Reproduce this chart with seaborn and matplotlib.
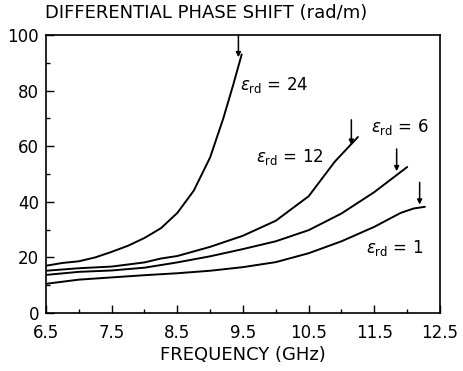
import matplotlib
matplotlib.use("Agg")
import matplotlib.pyplot as plt
import seaborn as sns
import pandas as pd
from matplotlib.ticker import MultipleLocator

# ---- data ----
x24 = [6.5, 6.75, 7.0, 7.25, 7.5, 7.75, 8.0, 8.25, 8.5, 8.75, 9.0, 9.2, 9.35, 9.48]
y24 = [17.0, 18.0, 18.6, 20.0, 22.0, 24.2, 27.0, 30.5, 36.0, 44.0, 56.0, 70.0, 82.0, 93.0]

x12 = [6.5, 7.0, 7.5, 8.0, 8.25, 8.5, 9.0, 9.5, 10.0, 10.5, 10.9, 11.25]
y12 = [15.2, 16.1, 16.7, 18.2, 19.6, 20.5, 23.8, 27.8, 33.2, 42.0, 54.5, 63.3]

x6 = [6.5, 7.0, 7.5, 8.0, 8.5, 9.0, 9.5, 10.0, 10.5, 11.0, 11.5, 12.0]
y6 = [13.7, 14.8, 15.3, 16.3, 18.2, 20.4, 23.0, 25.8, 29.8, 35.8, 43.5, 52.5]

x1 = [6.5, 7.0, 7.5, 8.0, 8.5, 9.0, 9.5, 10.0, 10.5, 11.0, 11.5, 11.9, 12.1, 12.27]
y1 = [10.5, 12.0, 12.8, 13.6, 14.3, 15.2, 16.5, 18.3, 21.5, 25.8, 31.0, 36.0, 37.6, 38.2]

labels = ["24", "12", "6", "1"]
label_xy = [(9.45, 82), (9.7, 56), (11.45, 67), (11.38, 23.5)]
arrow_x = [9.43, 11.15, 11.84, 12.19]
arrow_top = [100, 69.5, 59, 47]
arrow_tip = [92, 60.5, 51, 39]

xticks = [6.5, 7.5, 8.5, 9.5, 10.5, 11.5, 12.5]
yticks = [0, 20, 40, 60, 80, 100]

sns.set_theme(style="white")
plt.rcParams['font.family'] = ['DejaVu Sans']

fig = plt.figure(figsize=(4.63, 3.71), dpi=100)
ax = fig.add_axes([46/463, 1-313/371, (440-46)/463, (313-35)/371])

frames = []
for lab, xs, ys in zip(labels, [x24, x12, x6, x1], [y24, y12, y6, y1]):
    frames.append(pd.DataFrame({"f": xs, "p": ys, "eps": lab}))
df = pd.concat(frames, ignore_index=True)

sns.lineplot(data=df, x="f", y="p", units="eps", estimator=None, sort=False,
             color="black", linewidth=1.4, ax=ax, legend=False)

for lab, (lx, ly) in zip(labels, label_xy):
    ax.text(lx, ly, r"$\epsilon_{\mathrm{rd}}$ = " + lab, fontsize=12,
            va="center", ha="left", color="black")

for axx, at, tip in zip(arrow_x, arrow_top, arrow_tip):
    ax.annotate("", xy=(axx, tip), xytext=(axx, at),
                arrowprops=dict(arrowstyle="-|>", color="black", lw=1.1,
                                mutation_scale=7, shrinkA=0, shrinkB=0))

ax.set_xlim(6.5, 12.5)
ax.set_ylim(0, 100)
ax.set_xticks(xticks)
ax.set_xticklabels([str(t) for t in xticks])
ax.set_yticks(yticks)
ax.xaxis.set_minor_locator(MultipleLocator(0.5))
ax.yaxis.set_minor_locator(MultipleLocator(10))
ax.tick_params(which="major", direction="in", length=6, width=1, colors="black",
               labelsize=12, top=False, right=False, bottom=True, left=True)
ax.tick_params(axis="x", which="major", pad=8)
ax.tick_params(axis="y", which="major", pad=5)
ax.tick_params(which="minor", direction="in", length=3, width=1, colors="black",
               bottom=True, left=True)
for s in ax.spines.values():
    s.set_color("black")
    s.set_linewidth(1.2)
ax.set_xlabel("FREQUENCY (GHz)", fontsize=13, labelpad=3, color="black")
ax.set_ylabel("")
fig.text(45/463, 1-13/371, "DIFFERENTIAL PHASE SHIFT (rad/m)", fontsize=13,
         ha="left", va="center", color="black")

fig.savefig("out.png", dpi=100)
